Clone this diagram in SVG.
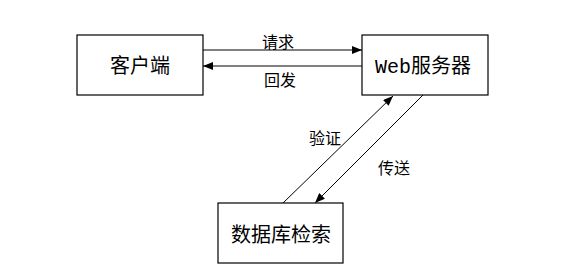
<svg xmlns="http://www.w3.org/2000/svg" width="564" height="280" viewBox="0 0 564 280">
<style>
.box{fill:#fff;stroke:#000;stroke-width:1.2}
.t{font-family:"Liberation Mono","Noto Sans CJK SC",monospace;font-size:20px;fill:#000;text-anchor:middle}
.l{font-family:"Noto Sans CJK SC",sans-serif;font-size:16px;fill:#000;text-anchor:middle}
.c{stroke:#000;stroke-width:1;fill:none}
</style>
<defs>
<marker id="ah" viewBox="0 0 10 8" refX="10" refY="4" markerWidth="10" markerHeight="8" markerUnits="userSpaceOnUse" orient="auto">
<path d="M0,0 L10,4 L0,8 Z" fill="#000"/>
</marker>
</defs>
<rect width="564" height="280" fill="#fff"/>
<g id="client"><rect class="box" x="77" y="35" width="126" height="60"/><text class="t" x="140" y="73">客户端</text></g>
<g id="web"><rect class="box" x="362" y="35" width="126" height="60"/><text class="t" x="423" y="73" font-size="19">Web服务器</text></g>
<g id="db"><rect class="box" x="218" y="203" width="125" height="60"/><text class="t" x="281" y="242">数据库检索</text></g>
<g id="connectors">
<line class="c" x1="203" y1="50" x2="362" y2="50" marker-end="url(#ah)"/>
<line class="c" x1="362" y1="66" x2="203" y2="66" marker-end="url(#ah)"/>
<line class="c" x1="283" y1="203" x2="393" y2="96" marker-end="url(#ah)"/>
<line class="c" x1="423" y1="95" x2="315" y2="203" marker-end="url(#ah)"/>
<text class="l" x="278" y="48">请求</text>
<text class="l" x="280" y="86">回发</text>
<text class="l" x="325" y="144">验证</text>
<text class="l" x="394" y="174">传送</text>
</g>
</svg>
